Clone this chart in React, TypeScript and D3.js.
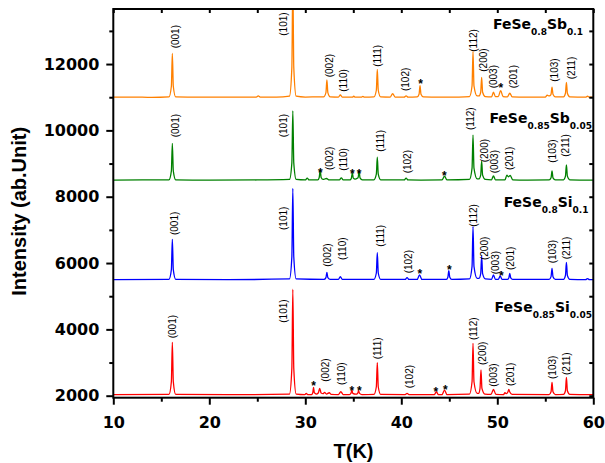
import React, { useEffect, useRef } from 'react';
import * as d3 from 'd3';

type Pt = [number, number];
type Label = [string, number, number];

// 2theta (deg) / counts
const orangeTrace: Pt[] = [
  [10, 11000], [12, 11005], [14, 10995],
  [15.8, 11010], [16.05, 11330], [16.15, 12320], [16.25, 11330], [16.5, 11010],
  [19, 11000], [22, 11005], [24.9, 11005], [25.1, 11040], [25.3, 11005], [27, 11000],
  [28.35, 11030], [28.6, 11900], [28.7, 14500], [28.8, 11900], [29.05, 11030],
  [30, 11005], [31.5, 11010],
  [31.9, 11010], [32.15, 11140], [32.25, 11520], [32.35, 11140], [32.6, 11010],
  [33.45, 11005], [33.65, 11070], [33.85, 11005],
  [34.9, 11000], [35.05, 11030], [35.2, 11000], [35.85, 11000], [36.0, 11025], [36.15, 11000],
  [37.15, 11010], [37.4, 11210], [37.5, 11840], [37.6, 11210], [37.85, 11010],
  [38.85, 11005], [39.1, 11110], [39.35, 11005],
  [40.3, 11000], [40.5, 11040], [40.7, 11000],
  [41.65, 11010], [41.85, 11090], [41.95, 11350], [42.05, 11090], [42.3, 11010],
  [44, 11000], [46, 11005],
  [47.1, 11020], [47.37, 11345], [47.47, 12380], [47.57, 11345], [47.9, 11040],
  [48.1, 11040], [48.27, 11150], [48.37, 11600], [48.47, 11150], [48.75, 11020],
  [49.4, 11010], [49.6, 11150], [49.8, 11020],
  [50.1, 11020], [50.35, 11200], [50.6, 11020],
  [51.05, 11010], [51.3, 11120], [51.55, 11010],
  [53, 11000], [55.0, 11005], [55.2, 11060], [55.35, 11040],
  [55.5, 11050], [55.6, 11090], [55.7, 11300], [55.8, 11090], [56.05, 11010],
  [56.9, 11010], [57.1, 11120], [57.2, 11450], [57.3, 11120], [57.55, 11010],
  [59.2, 11000], [59.4, 11030], [59.6, 11000], [60, 11000],
];

const greenTrace: Pt[] = [
  [10, 8500], [13, 8505],
  [15.8, 8510], [16.05, 8780], [16.15, 9610], [16.25, 8780], [16.5, 8510],
  [20, 8500], [25, 8505],
  [28.35, 8520], [28.6, 9020], [28.7, 10590], [28.8, 9020], [29.05, 8520],
  [30.0, 8505], [30.2, 8560], [30.4, 8505],
  [31.3, 8505], [31.45, 8580], [31.55, 8800], [31.65, 8580], [31.85, 8520],
  [32.2, 8550], [32.5, 8505],
  [33.55, 8505], [33.75, 8570], [33.95, 8505],
  [34.65, 8505], [34.8, 8560], [34.9, 8720], [35.0, 8560], [35.2, 8530],
  [35.5, 8570], [35.6, 8780], [35.7, 8570], [35.95, 8505],
  [37.15, 8510], [37.4, 8680], [37.5, 9190], [37.6, 8680], [37.85, 8510],
  [40.3, 8505], [40.5, 8560], [40.7, 8505],
  [42, 8500], [44.25, 8505], [44.5, 8620], [44.75, 8505],
  [47.1, 8520], [47.37, 8860], [47.47, 9860], [47.57, 8860], [47.9, 8540],
  [48.1, 8540], [48.27, 8650], [48.37, 9070], [48.47, 8650], [48.75, 8520],
  [49.4, 8510], [49.6, 8630], [49.8, 8510],
  [50.8, 8510], [51.0, 8650], [51.15, 8600], [51.35, 8640], [51.6, 8510],
  [53, 8500],
  [55.4, 8505], [55.6, 8570], [55.7, 8780], [55.8, 8570], [56.05, 8505],
  [56.9, 8510], [57.1, 8620], [57.2, 8960], [57.3, 8620], [57.55, 8510],
  [60, 8500],
];

const blueTrace: Pt[] = [
  [10, 5500],
  [15.8, 5510], [16.05, 5800], [16.15, 6715], [16.25, 5800], [16.5, 5510],
  [22, 5500],
  [28.35, 5520], [28.6, 6190], [28.7, 8250], [28.8, 6190], [29.05, 5520],
  [31.95, 5505], [32.15, 5560], [32.25, 5720], [32.35, 5560], [32.6, 5505],
  [33.45, 5505], [33.65, 5590], [33.85, 5505],
  [37.15, 5510], [37.4, 5700], [37.5, 6310], [37.6, 5700], [37.85, 5510],
  [40.4, 5505], [40.6, 5560], [40.8, 5505],
  [41.65, 5505], [41.9, 5640], [42.15, 5505],
  [44.7, 5505], [44.85, 5570], [44.95, 5770], [45.05, 5570], [45.25, 5505],
  [47.1, 5520], [47.37, 5900], [47.47, 7100], [47.57, 5900], [47.9, 5540],
  [48.1, 5540], [48.27, 5680], [48.37, 6210], [48.47, 5680], [48.75, 5520],
  [49.4, 5510], [49.6, 5640], [49.8, 5510],
  [50.1, 5510], [50.3, 5610], [50.5, 5510],
  [51.05, 5505], [51.2, 5550], [51.3, 5690], [51.4, 5550], [51.6, 5505],
  [55.4, 5505], [55.6, 5590], [55.7, 5840], [55.8, 5590], [56.05, 5505],
  [56.9, 5510], [57.1, 5630], [57.2, 6020], [57.3, 5630], [57.55, 5510],
  [59.2, 5500], [59.4, 5530], [59.6, 5500], [60, 5500],
];

const redTrace: Pt[] = [
  [10, 2030],
  [15.8, 2040], [16.05, 2425], [16.15, 3610], [16.25, 2425], [16.5, 2040],
  [22, 2030],
  [28.35, 2050], [28.6, 2825], [28.7, 5210], [28.8, 2825], [29.05, 2050],
  [29.95, 2035], [30.1, 2070], [30.25, 2035],
  [30.65, 2035], [30.78, 2090], [30.86, 2250], [30.94, 2090], [31.15, 2050],
  [31.35, 2080], [31.5, 2220], [31.65, 2080], [31.85, 2060],
  [32.0, 2100], [32.2, 2050], [32.5, 2090], [32.7, 2040],
  [33.45, 2035], [33.7, 2120], [33.95, 2035],
  [34.6, 2035], [34.75, 2070], [34.85, 2170], [34.95, 2070], [35.25, 2045],
  [35.45, 2070], [35.55, 2150], [35.65, 2070], [35.9, 2035],
  [37.15, 2040], [37.4, 2270], [37.5, 3000], [37.6, 2270], [37.85, 2040],
  [40.4, 2035], [40.6, 2070], [40.8, 2035],
  [43.45, 2035], [43.65, 2120], [43.85, 2035],
  [44.25, 2035], [44.5, 2170], [44.75, 2035],
  [47.1, 2050], [47.37, 2420], [47.47, 3580], [47.57, 2420], [47.9, 2070],
  [48.05, 2070], [48.2, 2220], [48.3, 2780], [48.4, 2220], [48.7, 2050],
  [49.35, 2040], [49.6, 2190], [49.85, 2040],
  [50.65, 2035], [50.8, 2090], [50.95, 2060],
  [51.1, 2110], [51.2, 2190], [51.3, 2110], [51.55, 2040],
  [55.4, 2035], [55.6, 2120], [55.7, 2400], [55.8, 2120], [56.05, 2035],
  [56.9, 2040], [57.1, 2150], [57.2, 2550], [57.3, 2150], [57.55, 2040],
  [60, 2030],
];

// [hkl, 2theta of label, counts at foot of label]
const orangeLabels: Label[] = [
  ["(001)", 16.43, 12474], ["(101)", 27.74, 12854], ["(002)", 32.53, 11600], ["(110)", 33.93, 11166],
  ["(111)", 37.47, 11919], ["(102)", 40.45, 11187], ["(112)", 47.53, 12372], ["(200)", 48.57, 11769],
  ["(003)", 49.6, 11268], ["(201)", 51.7, 11268], ["(103)", 55.94, 11467], ["(211)", 57.68, 11539],
];
const greenLabels: Label[] = [
  ["(001)", 16.43, 9791], ["(101)", 27.74, 9791], ["(002)", 32.53, 8805], ["(110)", 33.93, 8784],
  ["(111)", 37.8, 9357], ["(102)", 40.6, 8705], ["(112)", 47.19, 10011], ["(200)", 48.68, 9037],
  ["(003)", 49.72, 8705], ["(201)", 51.25, 8805], ["(103)", 55.77, 9025], ["(211)", 57.15, 9206],
];
const blueLabels: Label[] = [
  ["(001)", 16.35, 6845], ["(101)", 27.74, 6996], ["(002)", 32.33, 5889], ["(110)", 33.89, 6091],
  ["(111)", 37.8, 6492], ["(102)", 40.7, 5690], ["(112)", 47.47, 7095], ["(200)", 48.65, 6091],
  ["(003)", 49.86, 5660], ["(201)", 51.4, 5790], ["(103)", 55.77, 5992], ["(211)", 57.26, 6112],
];
const redLabels: Label[] = [
  ["(001)", 16.18, 3731], ["(101)", 27.74, 4201], ["(002)", 32.08, 2422], ["(110)", 33.72, 2323],
  ["(111)", 37.53, 3097], ["(102)", 40.86, 2223], ["(112)", 47.53, 3679], ["(200)", 48.47, 2926],
  ["(003)", 49.6, 2271], ["(201)", 51.4, 2292], ["(103)", 55.7, 2504], ["(211)", 57.2, 2624],
];

// impurity peaks marked with *
const orangeStars: Pt[] = [[42.0, 11497], [50.38, 11367]];
const greenStars: Pt[] = [[31.56, 8805], [34.9, 8775], [35.6, 8775], [44.48, 8723]];
const blueStars: Pt[] = [[41.92, 5760], [45.0, 5889], [50.42, 5690]];
const redStars: Pt[] = [[30.86, 2374], [34.86, 2241], [35.62, 2241], [43.61, 2202], [44.58, 2253]];

const traces = [orangeTrace, greenTrace, blueTrace, redTrace];
const labelSets = [orangeLabels, greenLabels, blueLabels, redLabels];
const starSets = [orangeStars, greenStars, blueStars, redStars];
const traceColors = ["#FF8000", "#008000", "#0000FF", "#FF0000"];

const sampleNames = [
  ["FeSe", "0.8", "Sb", "0.1"],
  ["FeSe", "0.85", "Sb", "0.05"],
  ["FeSe", "0.8", "Si", "0.1"],
  ["FeSe", "0.85", "Si", "0.05"],
];
const namePos = [[583, 29], [592, 123], [588.5, 207], [592, 312]];

const xMajor = [10, 20, 30, 40, 50, 60];
const xMinor = [15, 25, 35, 45, 55];
const yMajor = [2000, 4000, 6000, 8000, 10000, 12000];
const yMinor = [3000, 5000, 7000, 9000, 11000, 13000];

const tickFont = "'DejaVu Sans', sans-serif";
const textFont = "'Liberation Sans', Arial, sans-serif";

export default function App() {
  const ref = useRef<SVGSVGElement>(null);

  useEffect(() => {
    const svg = d3.select(ref.current);
    svg.selectAll("*").remove();

    const x = d3.scaleLinear().domain([10, 60]).range([113.3, 593.3]);
    const y = d3.scaleLinear().domain([1940, 13660]).range([397.7, 9]);

    svg.append("clipPath").attr("id", "plot-clip")
      .append("rect")
      .attr("x", x(10)).attr("y", y(13660))
      .attr("width", x(60) - x(10)).attr("height", y(1940) - y(13660));

    //traces
    const line = d3.line<Pt>().x(d => x(d[0])).y(d => y(d[1])).curve(d3.curveMonotoneX);
    const plot = svg.append("g").attr("clip-path", "url(#plot-clip)");
    traces.forEach((t, i) => {
      plot.append("path")
        .attr("d", line(t))
        .attr("fill", "none")
        .attr("stroke", traceColors[i])
        .attr("stroke-width", 1.3)
        .attr("stroke-linejoin", "round");
    });

    //hkl labels and stars
    labelSets.forEach(set => {
      set.forEach(l => {
        svg.append("text")
          .attr("transform", `translate(${x(l[1])},${y(l[2])}) rotate(-90)`)
          .attr("dy", "0.35em")
          .attr("font-family", textFont)
          .attr("font-size", 10)
          .attr("fill", "#000")
          .text(l[0]);
      });
    });
    starSets.forEach(set => {
      set.forEach(s => {
        svg.append("text")
          .attr("x", x(s[0])).attr("y", y(s[1]))
          .attr("dy", "0.58em")
          .attr("text-anchor", "middle")
          .attr("font-family", textFont)
          .attr("font-weight", "bold")
          .attr("font-size", 12)
          .text("*");
      });
    });

    //axes
    const styleAxis = (g: any) => {
      g.select(".domain").remove();
      g.selectAll("line").attr("stroke", "#000").attr("stroke-width", 2);
      g.selectAll("text")
        .attr("font-family", tickFont)
        .attr("font-weight", "bold")
        .attr("font-size", 16)
        .attr("fill", "#000");
    };
    svg.append("g").attr("transform", `translate(${x(10)},0)`)
      .call(d3.axisLeft(y).tickValues(yMajor).tickSize(7).tickPadding(7).tickFormat(d3.format("d")))
      .call(styleAxis);
    svg.append("g").attr("transform", `translate(${x(10)},0)`)
      .call(d3.axisLeft(y).tickValues(yMinor).tickSize(4).tickFormat(() => ""))
      .call(styleAxis);
    svg.append("g").attr("transform", `translate(0,${y(1940)})`)
      .call(d3.axisBottom(x).tickValues(xMajor).tickSize(7).tickPadding(12).tickFormat(d3.format("d")))
      .call(styleAxis);
    svg.append("g").attr("transform", `translate(0,${y(1940)})`)
      .call(d3.axisBottom(x).tickValues(xMinor).tickSize(4).tickFormat(() => ""))
      .call(styleAxis);
    svg.append("g").attr("transform", `translate(0,${y(13660)})`)
      .call(d3.axisTop(x).tickValues(xMajor.concat(xMinor)).tickSize(-4).tickFormat(() => ""))
      .call(styleAxis);
    svg.append("g").attr("transform", `translate(${x(60)},0)`)
      .call(d3.axisRight(y).tickValues(yMajor.concat(yMinor)).tickSize(-4).tickFormat(() => ""))
      .call(styleAxis);

    svg.append("rect")
      .attr("x", x(10)).attr("y", y(13660))
      .attr("width", x(60) - x(10)).attr("height", y(1940) - y(13660))
      .attr("fill", "none").attr("stroke", "#000").attr("stroke-width", 2);

    //sample names
    sampleNames.forEach((n, i) => {
      const t = svg.append("text")
        .attr("x", namePos[i][0]).attr("y", namePos[i][1])
        .attr("text-anchor", "end")
        .attr("font-family", tickFont)
        .attr("font-weight", "bold")
        .attr("font-size", 14)
        .attr("fill", "#000");
      t.append("tspan").text(n[0]);
      t.append("tspan").attr("dy", 6).attr("font-size", 9).text(n[1]);
      t.append("tspan").attr("dy", -6).text(n[2]);
      t.append("tspan").attr("dy", 6).attr("font-size", 9).text(n[3]);
    });

    //axis titles
    svg.append("text")
      .attr("transform", "translate(25.5,211.3) rotate(-90)")
      .attr("text-anchor", "middle")
      .attr("font-family", textFont)
      .attr("font-weight", "bold")
      .attr("font-size", 20)
      .text("Intensity (ab.Unit)");
    svg.append("text")
      .attr("x", 353.5).attr("y", 458)
      .attr("text-anchor", "middle")
      .attr("font-family", textFont)
      .attr("font-weight", "bold")
      .attr("font-size", 20)
      .text("T(K)");
  }, []);

  return (
    <div style={{ position: 'absolute', left: 0, top: 0 }}>
      <svg ref={ref} width={605} height={463} style={{ display: 'block', background: '#fff' }} />
    </div>
  );
}
